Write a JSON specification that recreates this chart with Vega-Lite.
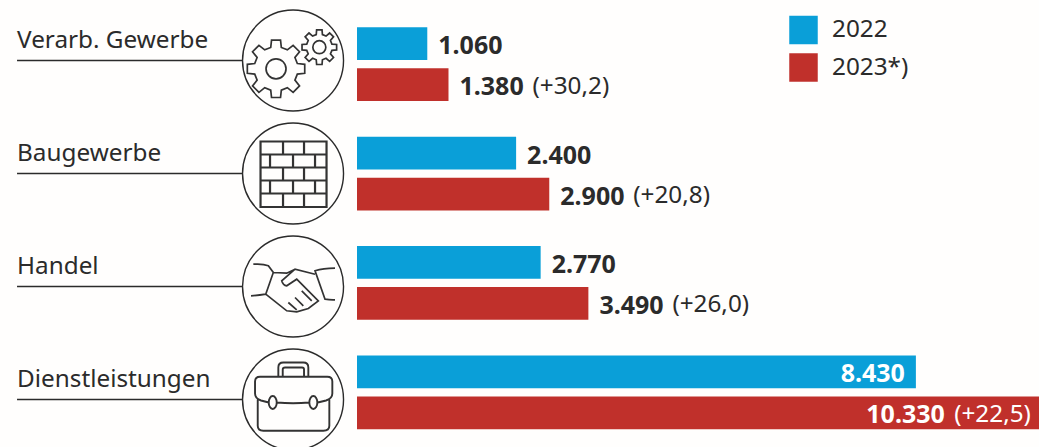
{
"$schema":"https://vega.github.io/schema/vega-lite/v6.json",
"width":1039,"height":447,"padding":0,"autosize":{"type":"none"},
"background":"#fffefd",
"config":{"view":{"stroke":null},"font":"Noto Sans","text":{"font":"Noto Sans"}},
"datasets":{
"werte":[
{"branche":"Verarb. Gewerbe","jahr":"2022","wert":1060,"label":"1.060","delta":""},
{"branche":"Verarb. Gewerbe","jahr":"2023*)","wert":1380,"label":"1.380","delta":"(+30,2)"},
{"branche":"Baugewerbe","jahr":"2022","wert":2400,"label":"2.400","delta":""},
{"branche":"Baugewerbe","jahr":"2023*)","wert":2900,"label":"2.900","delta":"(+20,8)"},
{"branche":"Handel","jahr":"2022","wert":2770,"label":"2.770","delta":""},
{"branche":"Handel","jahr":"2023*)","wert":3490,"label":"3.490","delta":"(+26,0)"},
{"branche":"Dienstleistungen","jahr":"2022","wert":8430,"label":"8.430","delta":""},
{"branche":"Dienstleistungen","jahr":"2023*)","wert":10330,"label":"10.330","delta":"(+22,5)"}
],
"branchen":[{"branche":"Verarb. Gewerbe"},{"branche":"Baugewerbe"},{"branche":"Handel"},{"branche":"Dienstleistungen"}]
},
"data":{"name":"werte"},
"resolve":{"scale":{"y":"independent"}},
"layer":[
{
"encoding":{
"y":{"field":"branche","type":"nominal","axis":null,"scale":{"type":"band","domain":["Verarb. Gewerbe","Baugewerbe","Handel","Dienstleistungen"],"range":[9.5,447],"paddingInner":0,"paddingOuter":0}},
"yOffset":{"field":"jahr","type":"nominal","scale":{"domain":["2022","2023*)"],"paddingInner":0.2,"paddingOuter":0.434}},
"x":{"field":"wert","type":"quantitative","axis":null,"scale":{"domain":[-5385,10287],"range":[0,1039],"nice":false,"zero":false}}
},
"layer":[
{"mark":{"type":"bar","clip":true},
"encoding":{"color":{"field":"jahr","type":"nominal","scale":{"domain":["2022","2023*)"],"range":["#0a9fd8","#c0302b"]},
"legend":{"title":null,"orient":"none","legendX":789,"legendY":15.5,"symbolType":"square","symbolSize":812,"symbolStrokeWidth":0,"symbolOpacity":1,"labelFontSize":24.3,"labelColor":"#2b2b2b","labelFont":"Noto Sans","labelOffset":14,"rowPadding":8.5}}}},
{"transform":[{"filter":"datum.wert < 8000"}],"mark":{"type":"text","align":"left","dx":11,"dy":2.5,"fontSize":25,"fontWeight":"bold","fill":"#2b2b2b"},"encoding":{"text":{"field":"label"}}},
{"transform":[{"filter":"datum.wert < 8000"}],"mark":{"type":"text","align":"left","dx":84,"dy":2,"fontSize":24.3,"fill":"#2b2b2b"},"encoding":{"text":{"field":"delta"}}},
{"transform":[{"filter":"datum.wert == 8430"}],"mark":{"type":"text","align":"right","dx":-11,"dy":2.5,"fontSize":25,"fontWeight":"bold","fill":"#ffffff"},"encoding":{"text":{"field":"label"}}},
{"transform":[{"filter":"datum.wert == 10330"}],"mark":{"type":"text","align":"right","dx":-97,"dy":2.5,"fontSize":25,"fontWeight":"bold","fill":"#ffffff"},"encoding":{"text":{"field":"label"}}},
{"transform":[{"filter":"datum.wert == 10330"}],"mark":{"type":"text","align":"right","dx":-11,"dy":2,"fontSize":24.3,"fill":"#ffffff"},"encoding":{"text":{"field":"delta"}}}
]
},
{
"data":{"name":"branchen"},
"encoding":{
"y":{"field":"branche","type":"nominal","axis":null,"scale":{"type":"band","domain":["Verarb. Gewerbe","Baugewerbe","Handel","Dienstleistungen"],"range":[4,456],"paddingInner":0,"paddingOuter":0}}
},
"layer":[
{"mark":{"type":"rule","stroke":"#2b2b2b","strokeWidth":1.3},"encoding":{"x":{"datum":-5128},"x2":{"datum":-1735}}},
{"mark":{"type":"text","align":"left","baseline":"alphabetic","dy":-12.5,"fontSize":24.3,"fill":"#2b2b2b"},"encoding":{"x":{"datum":-5128},"text":{"field":"branche"}}},
{"mark":{"type":"point","shape":"circle","size":10201,"filled":false,"stroke":"#2b2b2b","strokeWidth":1.4,"opacity":1},"encoding":{"x":{"datum":-965}}},
{"transform":[{"filter":"datum.branche == 'Verarb. Gewerbe'"}],
"mark":{"type":"point","size":4,"filled":false,"stroke":"#333333","strokeWidth":1.7,"opacity":1,
"shape":"M4.3,3L11.7,3.8L11.7,12.8L4.3,13.6L1.9,19.6L6.5,25.4L0.1,31.8L-5.7,27.2L-11.7,29.6L-12.5,37L-21.5,37L-22.3,29.6L-28.3,27.2L-34.1,31.8L-40.5,25.4L-35.9,19.6L-38.3,13.6L-45.7,12.8L-45.7,3.8L-38.3,3L-35.9,-3L-40.5,-8.8L-34.1,-15.2L-28.3,-10.6L-22.3,-13L-21.5,-20.4L-12.5,-20.4L-11.7,-13L-5.7,-10.6L0.1,-15.2L6.5,-8.8L1.9,-3ZM-7,8.3A10,10 0 1 0 -27,8.3A10,10 0 1 0 -7,8.3ZM38.9,-16.4L43.6,-16L43.6,-10.6L38.9,-10.2L37.4,-6.6L40.5,-3L36.6,0.9L33,-2.2L29.4,-0.7L29,4L23.6,4L23.2,-0.7L19.6,-2.2L16,0.9L12.1,-3L15.2,-6.6L13.7,-10.2L9,-10.6L9,-16L13.7,-16.4L15.2,-20L12.1,-23.6L16,-27.5L19.6,-24.4L23.2,-25.9L23.6,-30.6L29,-30.6L29.4,-25.9L33,-24.4L36.6,-27.5L40.5,-23.6L37.4,-20ZM32.8,-13.3A6.5,6.5 0 1 0 19.8,-13.3A6.5,6.5 0 1 0 32.8,-13.3Z"},
"encoding":{"x":{"datum":-965}}},
{"transform":[{"filter":"datum.branche == 'Baugewerbe'"}],
"mark":{"type":"point","size":4,"filled":false,"stroke":"#333333","strokeWidth":2.2,"opacity":1,
"shape":"M-32.5,-32H33.5V33.5H-32.5ZM-32.5,-19H33.5M-32.5,-6H33.5M-32.5,7H33.5M-32.5,20H33.5M-10,-32V-19M11,-32V-19M-23,-19V-6M0,-19V-6M22,-19V-6M-10,-6V7M11,-6V7M-23,7V20M0,7V20M22,7V20M-10,20V33.5M11,20V33.5"},
"encoding":{"x":{"datum":-965}}},
{"transform":[{"filter":"datum.branche == 'Handel'"}],
"mark":{"type":"point","size":4,"filled":false,"stroke":"#333333","strokeWidth":1.7,"opacity":1,
"shape":"M-39.7,-22.3Q-30,-23 -24.7,-20.7L-19.7,-14L-27.3,7.7Q-35,9 -42,9.3M42,-18.3Q30,-18 22,-15.7L32,12.7Q37,13.5 42,13.3M-19.7,-14L-6.3,-13.3L2,-17.3M22,-12.3L2,-17.3L-11.3,-5.7Q-10,-1 -6.3,-0.7L3.7,-7.3L25.3,14.3L15.3,22L3.7,25.3L-6.3,24.3L-27.3,7.7M8.7,4.3L18.7,14.3M2,11L10.3,19.3M-4.7,16L3.7,23.3"},
"encoding":{"x":{"datum":-965}}},
{"transform":[{"filter":"datum.branche == 'Dienstleistungen'"}],
"mark":{"type":"point","size":4,"filled":false,"stroke":"#333333","strokeWidth":1.9,"opacity":1,
"shape":"M-24.3,3L-32,1Q-38,-1 -38,-6V-18Q-38,-22.7 -33,-22.7H34.3Q39.3,-22.7 39.3,-18V-6Q39.3,-1 33,1L24.7,3M-16.3,3Q0,4.5 16.3,3M-35.3,0V26.3Q-35.3,31.3 -29.7,31.3H30.3Q36.3,31.3 36.3,26.3V0M-24.3,3A4,6.5 0 1 1 -16.3,3A4,6.5 0 1 1 -24.3,3ZM16.3,3A4,6.5 0 1 1 24.3,3A4,6.5 0 1 1 16.3,3ZM-14.7,-22.7V-32Q-14.7,-37 -9.7,-37H10.3Q15.3,-37 15.3,-32V-22.7M-10.3,-22.7V-30Q-10.3,-32 -8,-32H9Q11,-32 11,-30V-22.7"},
"encoding":{"x":{"datum":-965}}}
]
}
]
}
